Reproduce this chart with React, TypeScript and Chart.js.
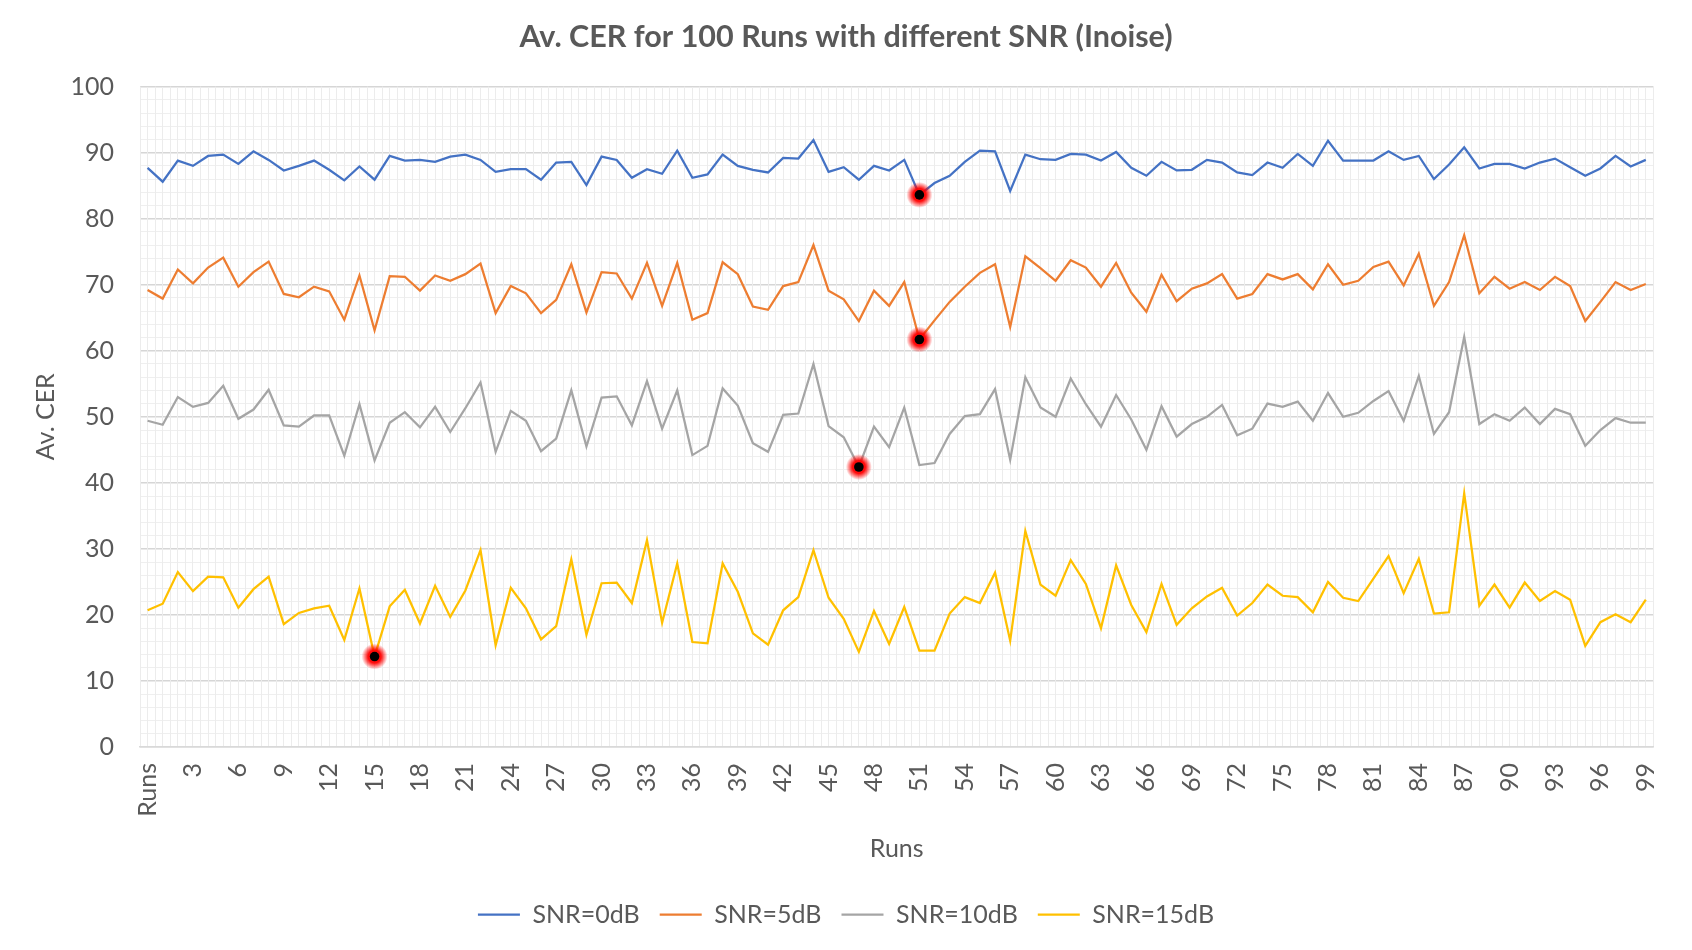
import { useEffect, useRef } from 'react';
import { Chart, registerables } from 'chart.js';

Chart.register(...registerables);

const RUNS = [
  'Runs', '1', '2', '3', '4', '5', '6', '7', '8', '9',
  '10', '11', '12', '13', '14', '15', '16', '17', '18', '19',
  '20', '21', '22', '23', '24', '25', '26', '27', '28', '29',
  '30', '31', '32', '33', '34', '35', '36', '37', '38', '39',
  '40', '41', '42', '43', '44', '45', '46', '47', '48', '49',
  '50', '51', '52', '53', '54', '55', '56', '57', '58', '59',
  '60', '61', '62', '63', '64', '65', '66', '67', '68', '69',
  '70', '71', '72', '73', '74', '75', '76', '77', '78', '79',
  '80', '81', '82', '83', '84', '85', '86', '87', '88', '89',
  '90', '91', '92', '93', '94', '95', '96', '97', '98', '99',
];

const SNR_0 = [
  87.7, 85.6, 88.8, 88.0, 89.5, 89.7, 88.3, 90.2, 88.9, 87.3,
  88.0, 88.8, 87.4, 85.8, 87.9, 85.9, 89.5, 88.8, 88.9, 88.6,
  89.4, 89.7, 88.9, 87.1, 87.5, 87.5, 85.9, 88.5, 88.6, 85.1,
  89.4, 88.9, 86.2, 87.5, 86.8, 90.3, 86.2, 86.7, 89.7, 88.0,
  87.4, 87.0, 89.2, 89.1, 91.9, 87.1, 87.8, 85.9, 88.0, 87.3,
  88.9, 83.6, 85.4, 86.5, 88.6, 90.3, 90.2, 84.2, 89.7, 89.0,
  88.9, 89.8, 89.7, 88.8, 90.1, 87.7, 86.5, 88.6, 87.3, 87.4,
  88.9, 88.5, 87.0, 86.6, 88.5, 87.7, 89.8, 88.0, 91.8, 88.8,
  88.8, 88.8, 90.2, 88.9, 89.5, 86.0, 88.2, 90.8, 87.6, 88.3,
  88.3, 87.6, 88.5, 89.1, 87.8, 86.5, 87.6, 89.5, 87.9, 88.9,
];

const SNR_5 = [
  69.2, 67.9, 72.3, 70.2, 72.6, 74.1, 69.7, 71.9, 73.5, 68.6,
  68.1, 69.7, 69.0, 64.7, 71.4, 63.1, 71.3, 71.2, 69.1, 71.4,
  70.6, 71.6, 73.2, 65.7, 69.8, 68.7, 65.7, 67.7, 73.1, 65.8,
  71.9, 71.7, 67.9, 73.3, 66.8, 73.3, 64.7, 65.7, 73.4, 71.6,
  66.7, 66.2, 69.8, 70.4, 76.0, 69.1, 67.8, 64.5, 69.1, 66.8,
  70.4, 61.7, 64.6, 67.4, 69.7, 71.8, 73.1, 63.6, 74.3, 72.5,
  70.6, 73.7, 72.6, 69.7, 73.3, 68.8, 65.9, 71.5, 67.5, 69.4,
  70.2, 71.6, 67.9, 68.6, 71.6, 70.8, 71.6, 69.3, 73.1, 70.0,
  70.6, 72.7, 73.5, 69.9, 74.7, 66.8, 70.4, 77.5, 68.7, 71.2,
  69.4, 70.4, 69.2, 71.2, 69.8, 64.5, 67.4, 70.4, 69.2, 70.1,
];

const SNR_10 = [
  49.4, 48.8, 53.0, 51.5, 52.1, 54.7, 49.7, 51.1, 54.1, 48.7,
  48.5, 50.2, 50.2, 44.1, 51.9, 43.4, 49.1, 50.7, 48.4, 51.5,
  47.7, 51.3, 55.2, 44.7, 50.9, 49.4, 44.8, 46.7, 54.0, 45.5,
  52.9, 53.1, 48.7, 55.4, 48.2, 54.0, 44.2, 45.6, 54.3, 51.7,
  46.0, 44.7, 50.3, 50.5, 58.0, 48.6, 46.9, 42.4, 48.5, 45.4,
  51.4, 42.7, 43.0, 47.4, 50.1, 50.4, 54.2, 43.5, 56.0, 51.4,
  50.0, 55.8, 51.9, 48.5, 53.3, 49.6, 45.0, 51.6, 47.0, 48.9,
  50.0, 51.8, 47.2, 48.2, 52.0, 51.5, 52.3, 49.4, 53.6, 50.0,
  50.6, 52.4, 53.9, 49.4, 56.2, 47.4, 50.7, 62.1, 48.9, 50.4,
  49.4, 51.4, 48.9, 51.2, 50.4, 45.6, 48.0, 49.8, 49.1, 49.1,
];

const SNR_15 = [
  20.7, 21.7, 26.5, 23.6, 25.8, 25.7, 21.1, 23.9, 25.8, 18.6,
  20.3, 21.0, 21.4, 16.2, 24.0, 13.7, 21.3, 23.8, 18.7, 24.4,
  19.7, 23.7, 29.8, 15.4, 24.1, 21.0, 16.3, 18.3, 28.4, 17.0,
  24.8, 24.9, 21.8, 31.3, 18.8, 27.8, 15.9, 15.7, 27.8, 23.5,
  17.2, 15.5, 20.7, 22.7, 29.8, 22.6, 19.4, 14.4, 20.6, 15.6,
  21.2, 14.6, 14.6, 20.2, 22.7, 21.8, 26.4, 16.1, 32.7, 24.6,
  22.9, 28.3, 24.7, 18.0, 27.5, 21.5, 17.4, 24.7, 18.5, 21.0,
  22.8, 24.1, 19.9, 21.8, 24.6, 22.9, 22.7, 20.4, 25.0, 22.6,
  22.1, 25.5, 28.9, 23.3, 28.5, 20.2, 20.4, 38.4, 21.4, 24.6,
  21.1, 24.9, 22.1, 23.6, 22.3, 15.3, 18.9, 20.1, 18.9, 22.3,
];

const SERIES_NAMES = ['SNR=0dB', 'SNR=5dB', 'SNR=10dB', 'SNR=15dB'];
const SERIES_COLORS = ['#4472c4', '#ed7d31', '#a5a5a5', '#ffc000'];

// [dataset index, point index] of the highlighted minimum points
const HIGHLIGHTS = [[0, 51], [1, 51], [2, 47], [3, 15]];

const TEXT = '#595959';
const FONT = "Lato, 'Open Sans', sans-serif";

const highlightPlugin = {
  id: 'highlight',
  afterDatasetsDraw(chart: Chart) {
    const { ctx } = chart;
    HIGHLIGHTS.forEach(([ds, i]) => {
      const pt = chart.getDatasetMeta(ds).data[i];
      if (!pt) return;
      const { x, y } = pt;
      ctx.save();
      const g = ctx.createRadialGradient(x, y, 0, x, y, 13);
      g.addColorStop(0, 'rgba(255,0,0,1)');
      g.addColorStop(0.5, 'rgba(255,0,0,0.95)');
      g.addColorStop(1, 'rgba(255,0,0,0)');
      ctx.fillStyle = g;
      ctx.beginPath();
      ctx.arc(x, y, 13, 0, Math.PI * 2);
      ctx.fill();
      ctx.fillStyle = '#000';
      ctx.beginPath();
      ctx.arc(x, y, 4.8, 0, Math.PI * 2);
      ctx.fill();
      ctx.restore();
    });
  },
};

export default function App() {
  const canvasRef = useRef<HTMLCanvasElement>(null);
  const chartRef = useRef<Chart | null>(null);

  useEffect(() => {
    document.body.style.margin = '0';
    if (!canvasRef.current) return;
    chartRef.current?.destroy();

    const values = [SNR_0, SNR_5, SNR_10, SNR_15];

    chartRef.current = new Chart(canvasRef.current, {
      type: 'line',
      data: {
        labels: RUNS,
        datasets: values.map((d, k) => ({
          label: SERIES_NAMES[k],
          data: d,
          borderColor: SERIES_COLORS[k],
          backgroundColor: SERIES_COLORS[k],
          borderWidth: 2.25,
          pointRadius: 0,
          pointHoverRadius: 0,
          tension: 0,
          fill: false,
        })),
      },
      options: {
        responsive: true,
        maintainAspectRatio: false,
        animation: false,
        layout: { padding: { top: 0, right: 0, bottom: 13, left: 0 } },
        plugins: {
          title: {
            display: true,
            text: 'Av. CER for 100 Runs with different SNR (Inoise)',
            color: TEXT,
            font: { family: FONT, size: 30.5, weight: 'bold' },
            padding: { top: 19, bottom: 31 },
          },
          legend: {
            position: 'bottom',
            labels: {
              usePointStyle: true,
              pointStyle: 'line',
              pointStyleWidth: 42,
              padding: 20,
              color: TEXT,
              font: { family: FONT, size: 25 },
            },
          },
          tooltip: { enabled: false },
        },
        scales: {
          x: {
            type: 'category',
            offset: true,
            grid: { offset: true, color: '#ececec', lineWidth: 1, drawTicks: false, z: -1 },
            border: { display: true, color: '#d9d9d9', width: 1.5 },
            ticks: {
              autoSkip: false,
              minRotation: 90,
              maxRotation: 90,
              padding: 16,
              color: TEXT,
              font: { family: FONT, size: 25 },
              callback: (_v, index) => (index % 3 === 0 ? RUNS[index] : ''),
            },
            title: {
              display: true,
              text: 'Runs',
              color: TEXT,
              font: { family: FONT, size: 25 },
              padding: { top: 0, bottom: 18 },
            },
            afterFit: (scale) => { scale.height = 135; },
          },
          x2: {
            type: 'category',
            position: 'top',
            offset: true,
            grid: { offset: false, color: '#ececec', lineWidth: 1, drawTicks: false, z: -1 },
            border: { display: false },
            ticks: { display: false },
          },
          y: {
            min: 0,
            max: 100,
            grid: {
              color: (c) => (c.tick && c.tick.value % 10 === 0 ? '#d6d6d6' : '#efefef'),
              lineWidth: (c) => (c.tick && c.tick.value % 10 === 0 ? 1.5 : 1),
              drawTicks: false,
              z: -2,
            },
            border: { display: false },
            ticks: {
              stepSize: 2,
              maxTicksLimit: 101,
              autoSkip: false,
              padding: 26,
              color: TEXT,
              font: { family: FONT, size: 25 },
              callback: (v) => (Number(v) % 10 === 0 ? String(v) : ''),
            },
            title: {
              display: true,
              text: 'Av. CER',
              color: TEXT,
              font: { family: FONT, size: 25 },
              padding: { top: 31, bottom: 0 },
            },
            afterFit: (scale) => { scale.width = 140; },
          },
          // empty right-hand axis: keeps the plot margin without shifting the centred title and legend
          yRight: {
            position: 'right',
            min: 0,
            max: 100,
            grid: { display: false, drawTicks: false },
            border: { display: false },
            ticks: { display: false },
            afterFit: (scale) => { scale.width = 22; },
          },
        },
      },
      plugins: [highlightPlugin],
    });

    return () => { chartRef.current?.destroy(); };
  }, []);

  return (
    <div style={{ width: 1692, height: 950, position: 'relative', background: '#fff' }}>
      <canvas ref={canvasRef} />
    </div>
  );
}
